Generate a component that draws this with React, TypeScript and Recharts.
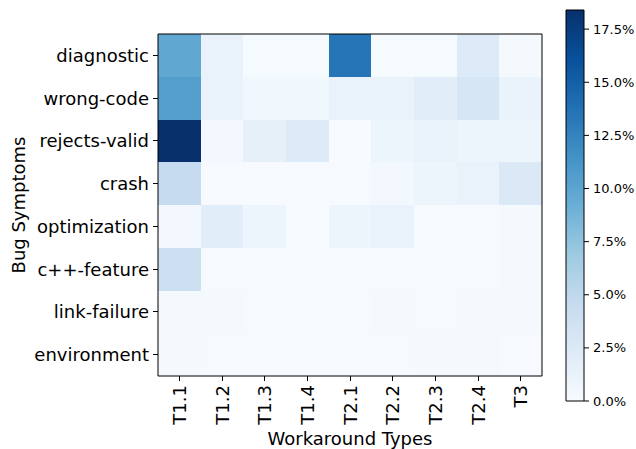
// Bug symptoms vs. workaround types — heatmap with a Blues colour bar

import React from 'react';
import { BarChart, Bar, Cell, XAxis, YAxis } from 'recharts';

// ---------------------------------------------------------------------------
// Data (percent of all cases)
// ---------------------------------------------------------------------------

const workaroundTypes = ['T1.1', 'T1.2', 'T1.3', 'T1.4', 'T2.1', 'T2.2', 'T2.3', 'T2.4', 'T3'];
const bugSymptoms = [
  'diagnostic',
  'wrong-code',
  'rejects-valid',
  'crash',
  'optimization',
  'c++-feature',
  'link-failure',
  'environment',
];

const diagnostic = [9.8, 1.3, 0.2, 0.2, 13.5, 0.2, 0.2, 2.4, 0.3];
const wrongCode = [10.5, 1.3, 0.6, 0.6, 1.3, 1.3, 2.0, 3.0, 1.2];
const rejectsValid = [18.4, 0.5, 1.6, 2.4, 0.0, 1.0, 1.3, 0.9, 0.9];
const crash = [4.6, 0.1, 0.1, 0.1, 0.1, 0.4, 0.9, 1.3, 2.6];
const optimization = [0.4, 2.0, 1.0, 0.0, 0.9, 1.3, 0.1, 0.1, 0.3];
const cppFeature = [3.9, 0.1, 0.1, 0.1, 0.1, 0.1, 0.1, 0.1, 0.3];
const linkFailure = [0.3, 0.3, 0.1, 0.1, 0.1, 0.3, 0.1, 0.3, 0.3];
const environment = [0.3, 0.1, 0.1, 0.1, 0.1, 0.1, 0.3, 0.3, 0.1];

const matrix = [diagnostic, wrongCode, rejectsValid, crash, optimization, cppFeature, linkFailure, environment];

const colorbarTicks = [0, 2.5, 5, 7.5, 10, 12.5, 15, 17.5];

// ---------------------------------------------------------------------------
// Blues colormap
// ---------------------------------------------------------------------------

const BLUES = ['#f7fbff', '#deebf7', '#c6dbef', '#9ecae1', '#6baed6', '#4292c6', '#2171b5', '#08519c', '#08306b'];
const VMAX = Math.max(...matrix.flat());

function hexToRgb(h: string): number[] {
  return [1, 3, 5].map((i) => parseInt(h.slice(i, i + 2), 16));
}

function blues(v: number): string {
  const t = Math.min(1, Math.max(0, v / VMAX)) * (BLUES.length - 1);
  const i = Math.min(BLUES.length - 2, Math.floor(t));
  const f = t - i;
  const a = hexToRgb(BLUES[i]);
  const b = hexToRgb(BLUES[i + 1]);
  const c = a.map((x, k) => Math.round(x + (b[k] - x) * f));
  return `rgb(${c[0]},${c[1]},${c[2]})`;
}

// one row per symptom, every cell is one unit wide on the x scale
const rows = bugSymptoms.map((s) => {
  const r: Record<string, string | number> = { symptom: s };
  workaroundTypes.forEach((_, k) => (r[`c${k}`] = 1));
  return r;
});

const FONT = 'DejaVu Sans, sans-serif';
const LABEL_SIZE = 18;

// shared geometry of the heatmap chart and its frame overlay
const HEAT_W = 560;
const HEAT_H = 449;
const X_AXIS_H = 73;
const Y_AXIS_W = 158;
const TOP_PAD = 34;
const RIGHT_PAD = 18;

// ---------------------------------------------------------------------------
// Ticks / labels
// ---------------------------------------------------------------------------

const XTick = (props: any) => {
  const { x, y, payload } = props;
  return (
    <text
      x={x}
      y={y}
      transform={`rotate(-90 ${x} ${y})`}
      textAnchor="end"
      dominantBaseline="central"
      fontSize={LABEL_SIZE}
      fill="#000"
    >
      {workaroundTypes[Math.floor(payload.value)]}
    </text>
  );
};

const YTitle = (props: any) => {
  const { x, y, height } = props.viewBox;
  const cx = x + 18;
  const cy = y + height / 2;
  return (
    <text
      x={cx}
      y={cy}
      transform={`rotate(-90 ${cx} ${cy})`}
      textAnchor="middle"
      dominantBaseline="central"
      fontSize={LABEL_SIZE}
      fill="#000"
    >
      Bug Symptoms
    </text>
  );
};

const XTitle = (props: any) => {
  const { x, y, width } = props.viewBox;
  return (
    <text x={x + width / 2} y={y + 62} textAnchor="middle" dominantBaseline="central" fontSize={LABEL_SIZE} fill="#000">
      Workaround Types
    </text>
  );
};

// ---------------------------------------------------------------------------
// Component
// ---------------------------------------------------------------------------

export default function App() {
  const xTicks = workaroundTypes.map((_, i) => i + 0.5);
  const frame = { stroke: '#000', strokeWidth: 1 };

  return (
    <div
      style={{
        position: 'absolute',
        left: 0,
        top: 0,
        width: 636,
        height: 449,
        background: '#fff',
        fontFamily: FONT,
      }}
    >
      <div style={{ position: 'absolute', left: 0, top: 0 }}>
        <BarChart
          width={HEAT_W}
          height={HEAT_H}
          data={rows}
          layout="vertical"
          barCategoryGap={0}
          barGap={0}
          margin={{ top: TOP_PAD, right: RIGHT_PAD, bottom: 0, left: 0 }}
          style={{ shapeRendering: 'crispEdges' }}
        >
          <XAxis
            type="number"
            domain={[0, workaroundTypes.length]}
            ticks={xTicks}
            interval={0}
            height={X_AXIS_H}
            tick={<XTick />}
            tickSize={5}
            tickMargin={4}
            tickLine={{ stroke: '#000' }}
            axisLine={false}
            label={<XTitle />}
          />
          <YAxis
            type="category"
            dataKey="symptom"
            width={Y_AXIS_W}
            interval={0}
            tick={{ fill: '#000', fontSize: LABEL_SIZE }}
            tickSize={5}
            tickMargin={4}
            tickLine={{ stroke: '#000' }}
            axisLine={false}
            label={<YTitle />}
          />
          {workaroundTypes.map((wt, k) => (
            <Bar key={wt} dataKey={`c${k}`} stackId="heat" isAnimationActive={false}>
              {matrix.map((row, r) => (
                <Cell key={r} fill={blues(row[k])} />
              ))}
            </Bar>
          ))}
        </BarChart>
      </div>

      {/* frame around the image: four axis lines drawn on top with the same layout */}
      <div style={{ position: 'absolute', left: 0, top: 0, pointerEvents: 'none' }}>
        <BarChart
          width={HEAT_W}
          height={HEAT_H}
          data={rows}
          layout="vertical"
          barCategoryGap={0}
          margin={{ top: 4, right: 0, bottom: 0, left: 0 }}
        >
          <XAxis xAxisId="b" type="number" domain={[0, workaroundTypes.length]} height={X_AXIS_H} tick={false} tickLine={false} axisLine={frame} />
          <XAxis
            xAxisId="t"
            orientation="top"
            type="number"
            domain={[0, workaroundTypes.length]}
            height={TOP_PAD - 4}
            tick={false}
            tickLine={false}
            axisLine={frame}
          />
          <YAxis yAxisId="l" type="category" dataKey="symptom" width={Y_AXIS_W} tick={false} tickLine={false} axisLine={frame} />
          <YAxis
            yAxisId="r"
            orientation="right"
            type="category"
            dataKey="symptom"
            width={RIGHT_PAD}
            tick={false}
            tickLine={false}
            axisLine={frame}
          />
          <Bar dataKey="c0" xAxisId="b" yAxisId="l" fill="none" isAnimationActive={false} />
          <Bar dataKey="c0" xAxisId="t" yAxisId="r" fill="none" isAnimationActive={false} />
        </BarChart>
      </div>

      <div style={{ position: 'absolute', left: 560, top: 0 }}>
        <BarChart
          width={76}
          height={449}
          data={[{ name: 'scale', v: VMAX }]}
          barCategoryGap={0}
          margin={{ top: 10, right: 0, bottom: 48, left: 6 }}
        >
          <defs>
            <linearGradient id="bluesGrad" x1="0" y1="1" x2="0" y2="0">
              {BLUES.map((c, i) => (
                <stop key={c} offset={`${(i / (BLUES.length - 1)) * 100}%`} stopColor={c} />
              ))}
            </linearGradient>
          </defs>
          <XAxis dataKey="name" type="category" hide />
          <YAxis
            orientation="right"
            type="number"
            domain={[0, VMAX]}
            ticks={colorbarTicks}
            interval={0}
            width={52}
            tickFormatter={(v: number) => `${v.toFixed(1)}%`}
            tick={{ fill: '#000', fontSize: 13, textAnchor: 'start' }}
            tickSize={5}
            tickMargin={4}
            tickLine={{ stroke: '#000' }}
            axisLine={false}
          />
          <Bar dataKey="v" fill="url(#bluesGrad)" stroke="#000" strokeWidth={1} isAnimationActive={false} />
        </BarChart>
      </div>
    </div>
  );
}
